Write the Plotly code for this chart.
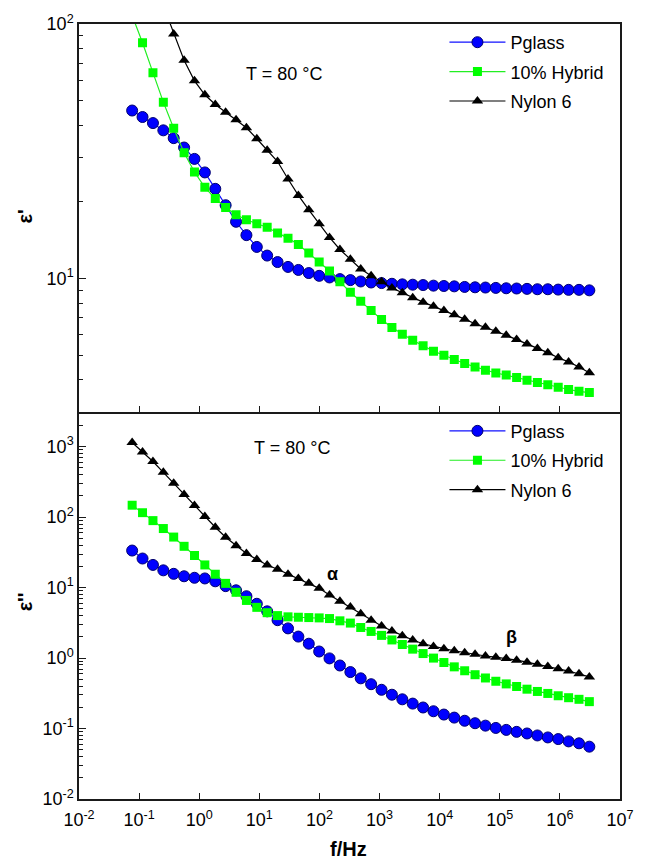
import plotly.graph_objects as go

# Measurement frequencies (Hz)
freq = [0.0766, 0.114, 0.170, 0.253, 0.376, 0.560, 0.834, 1.24, 1.85, 2.75,
        4.10, 6.10, 9.08, 13.5, 20.1, 30.0, 44.6, 66.5, 99.0, 147,
        219, 327, 486, 724, 1079, 1606, 2392, 3560, 5300, 7890,
        11750, 17500, 26060, 38800, 57750, 85950, 128000, 190600, 283800, 422600,
        629500, 937600, 1396000, 2079000, 3090000]

# Real permittivity eps'
pglass_re = [45.7, 43.1, 40.8, 38.2, 35.6, 32.7, 29.5, 26.1, 22.5, 19.4,
             16.7, 14.8, 13.3, 12.3, 11.6, 11.1, 10.8, 10.5, 10.24, 10.09,
             9.94, 9.85, 9.73, 9.64, 9.59, 9.53, 9.48, 9.45, 9.42, 9.37,
             9.34, 9.31, 9.26, 9.23, 9.21, 9.18, 9.15, 9.13, 9.10, 9.07,
             9.07, 9.04, 9.02, 9.02, 8.98]
hybrid_re = [108, 84.4, 64.4, 49.3, 38.9, 31.2, 26.2, 22.8, 20.6, 19.0,
             17.8, 17.0, 16.4, 15.9, 15.1, 14.4, 13.6, 12.6, 11.6, 10.7,
             9.71, 8.82, 8.13, 7.48, 6.90, 6.41, 6.04, 5.72, 5.44, 5.18,
             4.99, 4.80, 4.63, 4.49, 4.36, 4.25, 4.17, 4.08, 3.98, 3.90,
             3.82, 3.74, 3.66, 3.60, 3.56]
nylon_re = [260, 195, 150, 118, 91.4, 72.0, 59.8, 52.7, 48.3, 45.0,
            42.0, 39.1, 35.4, 31.9, 28.8, 24.6, 21.2, 18.6, 16.4, 14.5,
            13.0, 11.9, 10.9, 10.25, 9.71, 9.18, 8.78, 8.39, 8.07, 7.77,
            7.49, 7.20, 6.92, 6.64, 6.43, 6.20, 5.98, 5.75, 5.52, 5.31,
            5.11, 4.88, 4.70, 4.49, 4.26]

# Imaginary permittivity eps''
pglass_im = [33.6, 25.9, 21.0, 17.6, 15.7, 14.5, 13.8, 13.5, 12.3, 10.5,
             9.17, 7.55, 5.90, 4.61, 3.45, 2.64, 2.02, 1.60, 1.24, 0.99,
             0.785, 0.633, 0.516, 0.426, 0.355, 0.302, 0.260, 0.226, 0.199, 0.176,
             0.158, 0.143, 0.129, 0.119, 0.110, 0.102, 0.0957, 0.0897, 0.0851, 0.0798,
             0.0748, 0.0709, 0.0657, 0.0617, 0.0553]
hybrid_im = [148, 116, 89.4, 69.0, 52.2, 38.6, 28.6, 21.0, 15.5, 11.5,
             8.59, 6.58, 5.25, 4.41, 4.01, 3.85, 3.80, 3.76, 3.72, 3.64,
             3.38, 3.14, 2.72, 2.39, 2.10, 1.81, 1.56, 1.34, 1.16, 1.00,
             0.865, 0.751, 0.661, 0.581, 0.522, 0.469, 0.430, 0.395, 0.362, 0.336,
             0.315, 0.292, 0.274, 0.260, 0.241]
nylon_im = [1150, 841, 617, 433, 303, 210, 146, 102, 72, 52,
            39.4, 30.5, 25.1, 21.0, 18.2, 15.5, 13.5, 11.5, 9.77, 7.88,
            6.43, 5.30, 4.27, 3.45, 2.85, 2.43, 2.08, 1.81, 1.60, 1.46,
            1.36, 1.27, 1.19, 1.13, 1.07, 1.03, 0.986, 0.933, 0.875, 0.820,
            0.761, 0.705, 0.655, 0.600, 0.540]

series_names = ["Pglass", "10% Hybrid", "Nylon 6"]

x_tickvals = [1e-2, 1e-1, 1e0, 1e1, 1e2, 1e3, 1e4, 1e5, 1e6, 1e7]
x_ticktext = ["10<sup>-2</sup>", "10<sup>-1</sup>", "10<sup>0</sup>", "10<sup>1</sup>",
              "10<sup>2</sup>", "10<sup>3</sup>", "10<sup>4</sup>", "10<sup>5</sup>",
              "10<sup>6</sup>", "10<sup>7</sup>"]
y_re_tickvals = [10, 100]
y_re_ticktext = ["10<sup>1</sup>", "10<sup>2</sup>"]
y_im_tickvals = [1e-2, 1e-1, 1e0, 1e1, 1e2, 1e3]
y_im_ticktext = ["10<sup>-2</sup>", "10<sup>-1</sup>", "10<sup>0</sup>",
                 "10<sup>1</sup>", "10<sup>2</sup>", "10<sup>3</sup>"]

FONT = "Liberation Sans, Arial, sans-serif"

styles = [
    dict(line=dict(color="#1010ff", width=1.2),
         marker=dict(symbol="circle", size=11, color="#0000ff",
                     line=dict(color="#00006e", width=1))),
    dict(line=dict(color="#22ee22", width=1.2),
         marker=dict(symbol="square", size=9, color="#00ff00",
                     line=dict(color="#00ff00", width=0))),
    dict(line=dict(color="#000000", width=1.2),
         marker=dict(symbol="triangle-up", size=10, color="#000000",
                     line=dict(color="#000000", width=0))),
]

fig = go.Figure()

for name, vals, st in zip(series_names, [pglass_re, hybrid_re, nylon_re], styles):
    fig.add_trace(go.Scatter(x=freq, y=vals, name=name, mode="lines+markers",
                             xaxis="x2", yaxis="y2", legend="legend",
                             legendgroup="top" + name, **st))

for name, vals, st in zip(series_names, [pglass_im, hybrid_im, nylon_im], styles):
    fig.add_trace(go.Scatter(x=freq, y=vals, name=name, mode="lines+markers",
                             xaxis="x", yaxis="y", legend="legend2",
                             legendgroup="bot" + name, **st))

axis_common = dict(showline=True, linecolor="#1a1a1a", linewidth=1.5,
                   showgrid=False, zeroline=False,
                   ticks="inside", tickcolor="#1a1a1a", tickwidth=1.2,
                   tickfont=dict(family=FONT, size=18, color="#000000"))


def minor_vals(lo, hi):
    out = []
    for e in range(lo, hi):
        for m in range(2, 10):
            out.append(m * 10 ** e)
    return out


fig.update_layout(
    width=646, height=860,
    margin=dict(l=79, r=24, t=16, b=61),
    paper_bgcolor="white", plot_bgcolor="white",
    font=dict(family=FONT, size=18, color="#000000"),
    xaxis=dict(type="log", range=[-2, 7], anchor="y", mirror=False,
               tickmode="array", tickvals=x_tickvals, ticktext=x_ticktext,
               ticklen=6, ticklabelstandoff=4, **axis_common),
    xaxis2=dict(type="log", range=[-2, 7], anchor="y2", matches="x", mirror=True,
                tickmode="array", tickvals=x_tickvals, showticklabels=False,
                ticklen=6, **axis_common),
    yaxis=dict(type="log", range=[-2, 3.5], domain=[0, 0.5], anchor="x", mirror=True,
               tickmode="array", tickvals=y_im_tickvals, ticktext=y_im_ticktext,
               ticklen=7,
               minor=dict(tickmode="array", tickvals=minor_vals(-2, 4),
                          ticks="inside", ticklen=4, tickcolor="#1a1a1a",
                          showgrid=False),
               **axis_common),
    yaxis2=dict(type="log", range=[0.4771, 2], domain=[0.5, 1], anchor="x2", mirror=True,
                tickmode="array", tickvals=y_re_tickvals, ticktext=y_re_ticktext,
                ticklen=7,
                minor=dict(tickmode="array", tickvals=minor_vals(0, 2),
                           ticks="inside", ticklen=4, tickcolor="#1a1a1a",
                           showgrid=False),
                **axis_common),
    legend=dict(x=0.6755, y=1.0, xanchor="left", yanchor="top",
                bgcolor="rgba(0,0,0,0)", borderwidth=0, itemwidth=56,
                tracegroupgap=3, font=dict(family=FONT, size=18)),
    legend2=dict(x=0.6755, y=0.4985, xanchor="left", yanchor="top",
                 bgcolor="rgba(0,0,0,0)", borderwidth=0, itemwidth=56,
                 tracegroupgap=3, font=dict(family=FONT, size=18)),
    showlegend=True,
)

ann_font = dict(family=FONT, size=18, color="#000000")
bold_font = dict(family=FONT, size=20, color="#000000")
labels = [
    ("T = 80 °C", 0.379, 0.936, 0, ann_font),
    ("T = 80 °C", 0.394, 0.453, 0, ann_font),
    ("<b>α</b>", 0.468, 0.290, 0, ann_font),
    ("<b>β</b>", 0.800, 0.209, 0, ann_font),
    ("<b>ε'</b>", -0.0994, 0.752, -90, bold_font),
    ("<b>ε''</b>", -0.0994, 0.254, -90, bold_font),
    ("<b>f/Hz</b>", 0.499, -0.0639, 0, bold_font),
]
for text, ax, ay, ang, fnt in labels:
    fig.add_annotation(text=text, x=ax, y=ay, xref="paper", yref="paper",
                       xanchor="center", yanchor="middle", textangle=ang,
                       showarrow=False, font=fnt)

fig.write_html("out.html")
